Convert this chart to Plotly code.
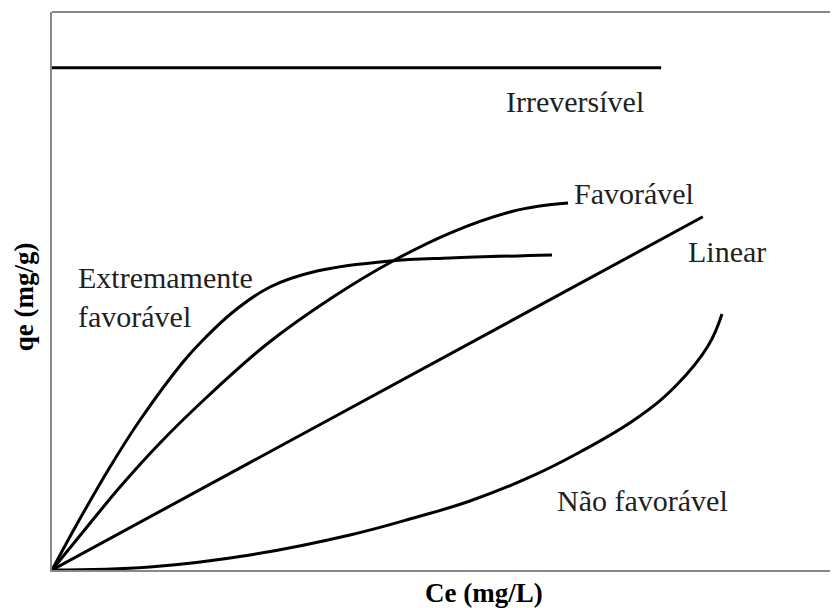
import plotly.graph_objects as go

# Data (arbitrary units, x: Ce, y: qe)
irrev_x = [0.0, 77.5]
irrev_y = [90.0, 90.0]

linear_x = [0.0, 82.8]
linear_y = [0.0, 63.3]

fav_x = [0.0, 4.45, 8.65, 13.74, 19.72, 27.35, 35.75, 43.38, 50.64, 58.27, 62.09, 65.65]
fav_y = [0.0, 7.71, 14.87, 22.76, 31.00, 40.50, 48.92, 55.38, 60.39, 64.16, 65.23, 65.77]

ext_x = [0.0, 3.18, 7.38, 11.20, 16.67, 19.21, 23.03, 27.74, 33.72, 43.00, 50.64, 63.61]
ext_y = [0.0, 8.24, 18.46, 26.88, 37.28, 41.22, 46.24, 50.72, 53.58, 55.38, 55.91, 56.45]

naofav_x = [0.0, 12.47, 25.19, 37.91, 46.44, 53.18, 60.56, 67.18, 74.43, 79.50, 83.46, 85.24]
naofav_y = [0.0, 0.54, 2.69, 6.27, 9.50, 12.37, 16.49, 21.15, 27.24, 33.20, 40.14, 45.88]

labels = ["Irreversível", "Favorável", "Linear", "Não favorável", "Extremamente<br>favorável"]
label_x = [66.6, 66.2, 80.6, 64.0, 3.1]
label_y = [83.9, 67.5, 57.0, 12.4, 48.9]
label_anchor = ["center", "left", "left", "left", "left"]

x_title = "Ce (mg/L)"
y_title = "qe (mg/g)"

fig = go.Figure()
for xs, ys, shape, sm in [
    (irrev_x, irrev_y, "linear", 1.0),
    (linear_x, linear_y, "linear", 1.0),
    (fav_x, fav_y, "spline", 1.0),
    (ext_x, ext_y, "spline", 1.0),
    (naofav_x, naofav_y, "spline", 1.2),
]:
    fig.add_trace(go.Scatter(x=xs, y=ys, mode="lines",
                             line=dict(color="black", width=3, shape=shape, smoothing=sm),
                             showlegend=False, hoverinfo="skip"))

serif = "Liberation Serif, Times New Roman, serif"
for t, x, y, a in zip(labels, label_x, label_y, label_anchor):
    fig.add_annotation(x=x, y=y, text=t, showarrow=False, xanchor=a, yanchor="middle",
                       align="left", font=dict(family=serif, size=30, color="#1f1f1f"))

fig.add_annotation(xref="paper", yref="paper", x=0.5496, y=-0.041, text="<b>" + x_title + "</b>",
                   showarrow=False, xanchor="center", yanchor="middle",
                   font=dict(family=serif, size=27, color="black"))
fig.add_annotation(xref="paper", yref="paper", x=-0.0356, y=0.489, text="<b>" + y_title + "</b>",
                   showarrow=False, xanchor="center", yanchor="middle", textangle=-90,
                   font=dict(family=serif, size=27, color="black"))

# top border of frame
fig.add_shape(type="line", xref="paper", yref="paper", x0=0, x1=1, y0=1, y1=1,
              line=dict(color="#888888", width=2))

fig.update_xaxes(range=[0, 100], showgrid=False, zeroline=False, showticklabels=False,
                 ticks="", showline=True, linecolor="#888888", linewidth=2)
fig.update_yaxes(range=[0, 100], showgrid=False, zeroline=False, showticklabels=False,
                 ticks="", showline=True, linecolor="#888888", linewidth=2)

# page body has an 8px margin; plot area spans x 52-838, y 12-570 on the page
fig.update_layout(width=830, height=600, margin=dict(l=44, r=0, t=4, b=38),
                  plot_bgcolor="white", paper_bgcolor="white")

fig.write_html("out.html")
